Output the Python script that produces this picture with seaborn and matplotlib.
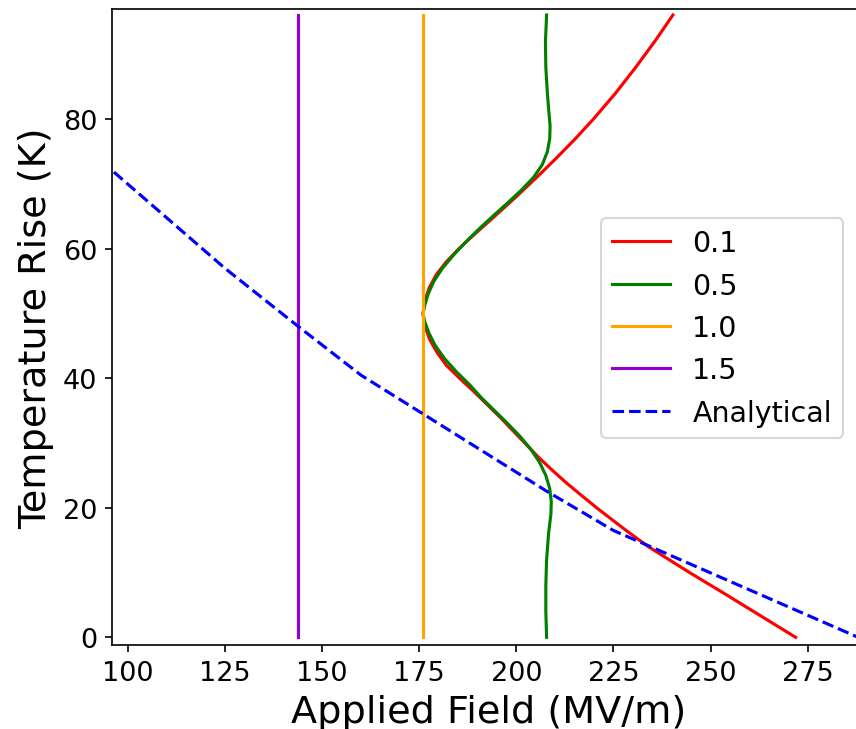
import matplotlib
matplotlib.use('Agg')

import numpy as np
import pandas as pd
import matplotlib.pyplot as plt
import seaborn as sns

# Du lieu doc tu hinh (truc y = Temperature Rise, truc x = Applied Field)
red_y = [0, 3.5, 7, 10, 12, 14, 16, 18, 20, 22, 24, 26, 28, 30, 32, 34, 36, 38, 40, 42,
         44, 46, 48, 50, 52, 54, 56, 58, 60, 62, 65, 68, 71, 74, 77, 80, 84, 88, 92, 96.1]
red_x = [271.9, 262.4, 252.9, 244.6, 239.3, 234.0, 229.4, 225.0, 220.7, 216.6, 212.6, 208.9,
         205.4, 202.2, 199.0, 195.8, 192.4, 189.0, 185.4, 182.0, 179.6, 177.7, 176.5, 176.0,
         176.5, 177.6, 179.4, 182.0, 185.2, 188.8, 194.4, 199.9, 205.2, 210.3, 215.2, 219.8,
         225.5, 230.7, 235.6, 240.3]

green_y = [0, 4, 8, 12, 16, 19, 21, 23, 25, 27, 29, 31, 33, 35, 37, 39, 41, 43, 45, 47, 49,
           50, 51, 53, 55, 57, 59, 61, 63, 65, 67, 69, 71, 73, 75, 77, 79, 81, 84, 88, 92, 96.1]
green_x = [207.8, 207.6, 207.6, 207.8, 208.3, 208.9, 209.0, 208.6, 207.6, 206.0, 203.8, 201.0,
           197.8, 194.4, 191.0, 188.0, 184.6, 181.6, 179.2, 177.5, 176.3, 176.0, 176.3, 177.3,
           178.8, 181.0, 183.8, 186.9, 190.3, 193.9, 197.6, 201.2, 204.4, 206.7, 208.0, 208.6,
           208.7, 208.4, 208.0, 207.6, 207.5, 207.8]

orange_y = [0, 96.1]
orange_x = [176.1, 176.1]

purple_y = [0, 96.1]
purple_x = [143.9, 143.9]

analytical_x = [90.0, 125.0, 143.9, 160.0, 208.0, 225.0, 288.0, 292.0]
analytical_y = [75.2, 57.0, 48.0, 40.5, 22.5, 16.5, 0.0, -1.0]

series = [
    ('0.1', red_x, red_y, 'red', '-'),
    ('0.5', green_x, green_y, 'green', '-'),
    ('1.0', orange_x, orange_y, 'orange', '-'),
    ('1.5', purple_x, purple_y, 'darkviolet', '-'),
    ('Analytical', analytical_x, analytical_y, 'blue', '--'),
]

fig = plt.figure(figsize=(856 / 150, 730 / 150), dpi=150)
ax = fig.add_axes([0.1305, 0.1151, 0.8812, 0.8712])

for name, xs, ys, col, ls in series:
    sns.lineplot(x=xs, y=ys, sort=False, estimator=None, color=col, linestyle=ls,
                 linewidth=1.5, label=name, ax=ax)

ax.set_xlim(95.88, 290)
ax.set_ylim(-1.18, 97.03)
ax.set_xticks([100, 125, 150, 175, 200, 225, 250, 275])
ax.set_yticks([0, 20, 40, 60, 80])
ax.tick_params(labelsize=13)
ax.set_xlabel('Applied Field (MV/m)', fontsize=18.3)
ax.set_ylabel('Temperature Rise (K)', fontsize=18.3)

ax.legend(loc='upper left', bbox_to_anchor=(601 / 856, 1 - 219 / 730),
          bbox_transform=fig.transFigure, borderaxespad=0, fontsize=13.7)

fig.savefig('out.png', dpi=150)
